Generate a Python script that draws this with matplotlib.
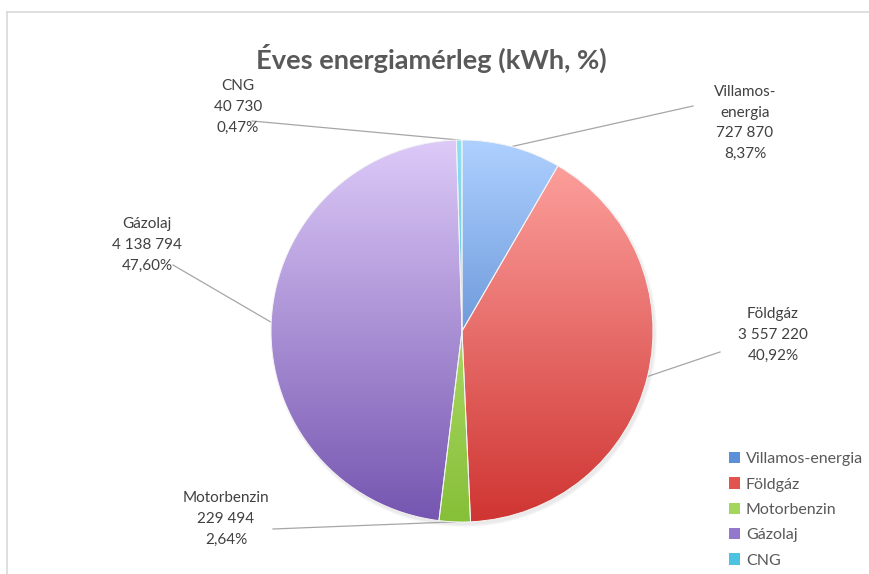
import matplotlib.pyplot as plt
import numpy as np
from matplotlib.colors import LinearSegmentedColormap
from matplotlib.patches import Patch, Circle
from matplotlib.lines import Line2D

plt.rcParams['font.family'] = ['Lato', 'DejaVu Sans']

# data
categories = ['Villamos-energia', 'Földgáz', 'Motorbenzin', 'Gázolaj', 'CNG']
label_names = ['Villamos-\nenergia', 'Földgáz', 'Motorbenzin', 'Gázolaj', 'CNG']
values = [727870, 3557220, 229494, 4138794, 40730]

# light (top) -> dark (bottom) colours for each slice
light_colors = ['#aed0ff', '#ffa6a3', '#cdf08e', '#ddcaf8', '#8fe0f2']
dark_colors = ['#2f66b8', '#cf3532', '#86bf38', '#7555b0', '#2aa6c8']

# label text centres and leader-line starts (pixels from top-left)
label_pos = [(745, 123), (773, 335), (226, 519), (147, 245), (238, 107)]
line_start = [(693, 106), (720, 352), (273, 529), (173, 265), (252, 121)]

W, H = 869, 574
cx, cy, r = 462, H - 331, 191

fig = plt.figure(figsize=(W / 100, H / 100), dpi=100)
ax = fig.add_axes([0, 0, 1, 1])
ax.set_axis_off()

# soft shadow
for k, a in enumerate([0.05, 0.05, 0.06]):
    ax.add_patch(Circle((cx + 2, cy - 3), r + 2 - k, color='#808080', alpha=a, lw=0, zorder=1))

wedges, _ = ax.pie(values, center=(cx, cy), radius=r, startangle=90, counterclock=False,
                   wedgeprops=dict(edgecolor='#f4f4f4', linewidth=0.7, facecolor='none'))
for w in wedges:
    w.set_zorder(3)

grad = np.linspace(1, 0, 256)[:, None]
for w, lc, dc in zip(wedges, light_colors, dark_colors):
    cmap = LinearSegmentedColormap.from_list('g', [lc, dc])
    im = ax.imshow(grad, extent=[cx - r, cx + r, cy - r, cy + r], cmap=cmap,
                   origin='lower', aspect='auto', zorder=2, vmin=0, vmax=1)
    im.set_clip_path(w)

total = sum(values)
for w, name, v, (lx, ly), (sx, sy) in zip(wedges, label_names, values, label_pos, line_start):
    ang = np.deg2rad((w.theta1 + w.theta2) / 2)
    ex, ey = cx + r * np.cos(ang), cy + r * np.sin(ang)
    ax.plot([sx, ex], [H - sy, ey], color='#a6a6a6', lw=0.9, zorder=1.5)
    txt = f"{name}\n{v:,}".replace(',', ' ') + '\n' + f"{v / total * 100:.2f}".replace('.', ',') + '%'
    ax.text(lx, H - ly, txt, ha='center', va='center', fontsize=11, color='#404040',
            linespacing=1.6, zorder=4)

ax.text(431, H - 58, 'Éves energiamérleg (kWh, %)', ha='center', va='center',
        fontsize=19.6, fontweight='bold', color='#595959')

handles = [Patch(facecolor=c, edgecolor='none') for c in
           ['#5b8fd8', '#e2524f', '#a4d65e', '#9478cc', '#4cc3e0']]
leg = ax.legend(handles, categories, loc='upper left', bbox_to_anchor=(729 / W, 1 - 452 / H),
                bbox_transform=fig.transFigure, frameon=False, fontsize=11.5,
                handlelength=0.7, handleheight=0.7, handletextpad=0.35, labelspacing=0.7,
                borderpad=0, borderaxespad=0)
for t in leg.get_texts():
    t.set_color('#595959')

ax.set_xlim(0, W)
ax.set_ylim(0, H)

# chart frame
fig.add_artist(Line2D([7 / W, 1], [1 - 12 / H, 1 - 12 / H], color='#d9d9d9', lw=1.2))
fig.add_artist(Line2D([7 / W, 7 / W], [0, 1 - 12 / H], color='#d9d9d9', lw=1.2))

fig.savefig('out.png', dpi=100)
